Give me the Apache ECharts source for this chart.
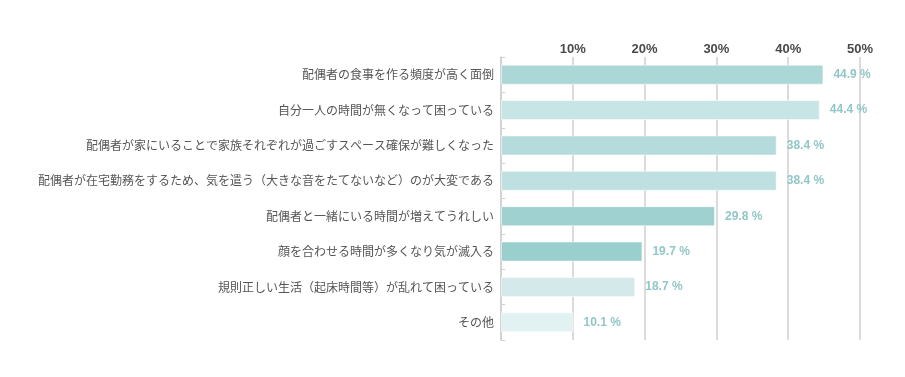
<!DOCTYPE html>
<html>
<head>
<meta charset="utf-8">
<script src="https://cdn.jsdelivr.net/npm/echarts@6/dist/echarts.min.js"></script>
<style>
html,body{margin:0;padding:0;background:#fff;}
#main{width:905px;height:377px;}
</style>
</head>
<body>
<div id="main"></div>
<script>
// 項目
var categories = [
    "配偶者の食事を作る頻度が高く面倒",
    "自分一人の時間が無くなって困っている",
    "配偶者が家にいることで家族それぞれが過ごすスペース確保が難しくなった",
    "配偶者が在宅勤務をするため、気を遣う（大きな音をたてないなど）のが大変である",
    "配偶者と一緒にいる時間が増えてうれしい",
    "顔を合わせる時間が多くなり気が滅入る",
    "規則正しい生活（起床時間等）が乱れて困っている",
    "その他"
];
// 割合(%)
var values = [44.9, 44.4, 38.4, 38.4, 29.8, 19.7, 18.7, 10.1];
var barColors = ["#acd7d7", "#c8e5e5", "#b5dbdc", "#bfe0e0", "#9ed1cf", "#99cfcd", "#d4eaea", "#e2f1f1"];
var tickLabels = ["", "10%", "20%", "30%", "40%", "50%"];

var myChart = echarts.init(document.getElementById('main'));

var data = [];
for (var i = 0; i < values.length; i++) {
    data.push({
        value: values[i],
        itemStyle: { color: barColors[i] }
    });
}

var option = {
    animation: false,
    grid: {
        left: 501,
        right: 45,
        top: 57,
        bottom: 37,
        outerBoundsMode: "none"
    },
    xAxis: {
        type: "value",
        position: "top",
        min: 0,
        max: 50,
        interval: 10,
        axisLine: { show: false },
        axisTick: { show: false },
        axisLabel: {
            margin: 1,
            color: "#4a4a4a",
            fontSize: 13,
            fontWeight: "bold",
            fontFamily: "Liberation Sans, Arial, sans-serif",
            formatter: function (v) { return tickLabels[v / 10]; }
        },
        splitLine: {
            show: true,
            lineStyle: { color: "#cfcfcf", width: 1.5 }
        }
    },
    yAxis: {
        type: "category",
        inverse: true,
        data: categories,
        axisLine: { show: true, lineStyle: { color: "#d0d0d0", width: 1.5 } },
        axisTick: { show: true, inside: true, length: 4, lineStyle: { color: "#d0d0d0" } },
        axisLabel: {
            margin: 7,
            color: "#555",
            fontSize: 12,
            fontFamily: "Noto Sans CJK JP, sans-serif"
        }
    },
    series: [{
        type: "bar",
        data: data,
        barWidth: 20,
        itemStyle: { borderColor: "rgba(255,255,255,0.5)", borderWidth: 1 },
        label: {
            show: true,
            position: "right",
            distance: 10,
            color: "#92c7c7",
            fontSize: 12,
            fontWeight: "bold",
            fontFamily: "Liberation Sans, Arial, sans-serif",
            formatter: "{c} %"
        }
    }]
};
myChart.setOption(option);
</script>
</body>
</html>
